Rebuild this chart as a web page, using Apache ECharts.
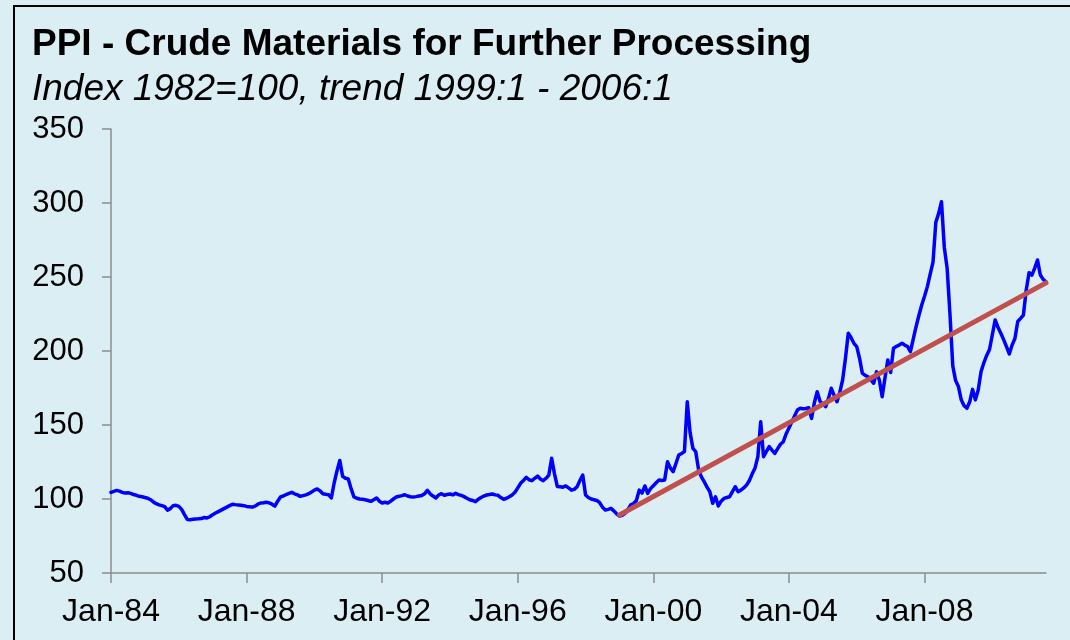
<!DOCTYPE html>
<html>
<head>
<meta charset="utf-8">
<script src="https://cdn.jsdelivr.net/npm/echarts@6/dist/echarts.min.js"></script>
<style>
  html, body { margin: 0; padding: 0; background: #DAEEF3; }
  #main { width: 1070px; height: 640px; }
</style>
</head>
<body>
<div id="main"></div>
<script>
// monthly index values, Jan-84 .. Aug-11
var startYear = 1984;
var monthNames = ['Jan', 'Feb', 'Mar', 'Apr', 'May', 'Jun', 'Jul', 'Aug', 'Sep', 'Oct', 'Nov', 'Dec'];

var ppi = [
    // 1984
    104.5, 105.2, 105.8, 105.3, 104.5, 104.0, 104.2, 103.8, 103.0, 102.5, 101.8, 101.5,
    // 1985
    101.0, 100.5, 99.5, 98.0, 96.8, 96.0, 95.5, 94.8, 92.5, 93.5, 95.5, 95.7,
    // 1986
    95.0, 93.0, 89.5, 86.2, 86.0, 86.3, 86.5, 86.6, 86.8, 87.5, 87.2, 88.0,
    // 1987
    89.4, 90.5, 91.5, 92.5, 93.5, 94.5, 95.5, 96.5, 96.2, 96.0, 95.8, 95.5,
    // 1988
    95.0, 94.8, 94.5, 95.2, 96.5, 97.3, 97.5, 97.8, 97.4, 96.5, 95.2, 98.5,
    // 1989
    101.4, 102.0, 103.0, 103.8, 104.5, 103.5, 102.8, 101.8, 102.3, 102.8, 103.6, 104.8,
    // 1990
    106.0, 106.8, 105.5, 103.6, 103.2, 102.9, 100.7, 110.8, 119.0, 126.0, 115.3, 114.0,
    // 1991
    113.5, 107.0, 101.4, 100.5, 100.0, 99.8, 99.5, 99.0, 98.4, 99.5, 100.7, 98.5,
    // 1992
    97.3, 97.8, 97.3, 98.5, 100.0, 101.4, 101.8, 102.3, 102.9, 102.0, 101.5, 101.4,
    // 1993
    101.6, 102.0, 102.3, 103.5, 105.9, 103.5, 102.0, 100.7, 102.7, 103.6, 102.5, 103.0,
    // 1994
    103.4, 102.8, 103.8, 103.0, 102.4, 101.6, 100.5, 99.5, 99.0, 98.2, 99.8, 101.0,
    // 1995
    102.0, 102.7, 103.0, 103.4, 102.8, 102.5, 101.0, 99.8, 100.5, 101.5, 102.7, 104.5,
    // 1996
    107.5, 110.6, 112.5, 114.6, 113.0, 112.4, 114.0, 115.5, 113.5, 112.4, 114.0, 116.2,
    // 1997
    127.5, 117.0, 108.5, 108.3, 108.0, 108.8, 107.5, 106.0, 106.5, 108.3, 112.5, 116.2,
    // 1998
    102.7, 101.0, 100.0, 99.5, 99.0, 97.5, 94.5, 92.6, 93.0, 93.7, 92.0, 90.0,
    // 1999
    88.5, 89.0, 90.3, 93.0, 96.0, 97.0, 99.0, 106.0, 104.0, 108.8, 103.8, 107.0,
    // 2000
    109.0, 111.0, 112.8, 112.5, 112.8, 125.2, 121.0, 118.5, 124.0, 129.7, 130.8, 132.0,
    // 2001
    165.7, 145.0, 134.2, 132.0, 120.0, 115.0, 111.7, 108.0, 104.9, 97.1, 101.5, 95.3,
    // 2002
    98.5, 100.4, 101.0, 101.5, 105.0, 108.3, 104.9, 106.0, 107.5, 109.4, 112.5, 117.0,
    // 2003
    121.0, 128.6, 152.2, 128.6, 132.0, 135.4, 133.0, 130.8, 134.0, 137.0, 138.7, 144.0,
    // 2004
    148.0, 152.0, 156.0, 160.1, 161.3, 161.0, 161.2, 161.7, 154.5, 165.0, 172.5, 166.0,
    // 2005
    164.0, 162.4, 168.0, 174.8, 170.0, 165.7, 172.0, 180.4, 195.0, 212.0, 209.0, 205.2,
    // 2006
    203.0, 195.0, 184.9, 183.5, 182.6, 180.5, 178.2, 186.0, 180.4, 169.1, 182.0, 193.9,
    // 2007
    185.5, 201.8, 203.0, 204.0, 205.2, 204.0, 203.0, 199.6, 208.0, 216.4, 224.0, 231.1,
    // 2008
    237.0, 243.5, 252.0, 260.0, 287.0, 293.0, 300.9, 270.0, 256.0, 225.0, 190.0, 180.0,
    // 2009
    176.0, 167.0, 163.0, 161.3, 165.7, 174.1, 167.0, 173.7, 186.0, 192.0, 197.0, 201.0,
    // 2010
    211.0, 221.0, 216.0, 212.0, 207.7, 203.0, 198.0, 204.0, 208.4, 219.9, 222.0, 224.3,
    // 2011
    241.2, 252.9, 251.3, 256.0, 261.5, 251.3, 248.4, 246.8
];

// trend 1999:1 - 2006:1, drawn out to the last month
var trendStart = { month: 'Jan-99', value: 89.2 };
var trendEnd = { month: 'Aug-11', value: 246.0 };

var yTicks = { min: 50, max: 350, step: 50 };

var months = [];
for (var i = 0; i < ppi.length; i++) {
    var y = startYear + Math.floor(i / 12);
    months.push(monthNames[i % 12] + '-' + String(y).slice(2));
}

var myChart = echarts.init(document.getElementById('main'));

var font = '"Liberation Sans", Arial, sans-serif';

option = {
    backgroundColor: '#DAEEF3',
    animation: false,
    title: [{
        text: 'PPI - Crude Materials for Further Processing',
        left: 32,
        top: 26,
        padding: 0,
        textStyle: {
            fontFamily: font,
            fontSize: 37,
            fontWeight: 'bold',
            color: '#000'
        }
    }, {
        text: 'Index 1982=100, trend 1999:1 - 2006:1',
        left: 32,
        top: 71,
        padding: 0,
        textStyle: {
            fontFamily: font,
            fontSize: 37,
            fontStyle: 'italic',
            fontWeight: 'normal',
            color: '#000'
        }
    }],
    graphic: [{
        type: 'rect',
        shape: { x: 14, y: 6, width: 1080, height: 660 },
        style: { fill: null, stroke: '#000', lineWidth: 2 },
        silent: true
    }],
    grid: {
        left: 111,
        right: 24,
        top: 129,
        bottom: 67
    },
    xAxis: {
        type: 'category',
        data: months,
        boundaryGap: false,
        axisLine: { lineStyle: { color: '#8c8c8c', width: 1.5 } },
        axisTick: { interval: 47, length: 10, lineStyle: { color: '#8c8c8c', width: 1.5 } },
        axisLabel: {
            interval: 47,
            margin: 23,
            fontFamily: font,
            fontSize: 32,
            color: '#000'
        },
        splitLine: { show: false }
    },
    yAxis: {
        type: 'value',
        min: yTicks.min,
        max: yTicks.max,
        interval: yTicks.step,
        axisLine: { show: true, lineStyle: { color: '#8c8c8c', width: 1.5 } },
        axisTick: { show: true, length: 9, lineStyle: { color: '#8c8c8c', width: 1.5 } },
        axisLabel: {
            margin: 27,
            fontFamily: font,
            fontSize: 31,
            color: '#000'
        },
        splitLine: { show: false }
    },
    series: [{
        name: 'PPI',
        type: 'line',
        data: ppi,
        showSymbol: false,
        symbol: 'none',
        lineStyle: { color: '#0000FF', width: 3.5, join: 'round', cap: 'round' },
        z: 2
    }, {
        name: 'Trend',
        type: 'line',
        data: [[trendStart.month, trendStart.value], [trendEnd.month, trendEnd.value]],
        symbol: 'none',
        lineStyle: { color: '#C0504D', width: 5, cap: 'round' },
        z: 3
    }]
};
myChart.setOption(option);
</script>
</body>
</html>
